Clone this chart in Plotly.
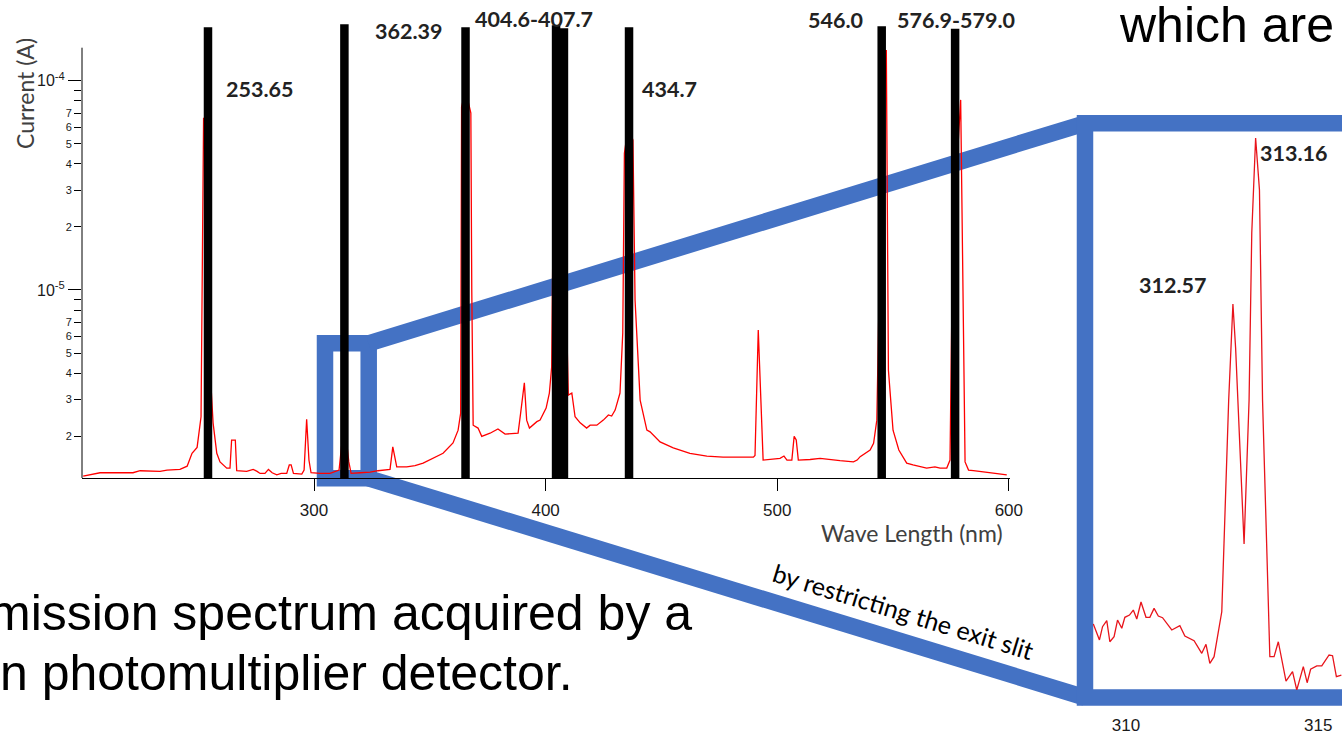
import plotly.graph_objects as go

# design grid = the 1342 x 736 picture; the figure itself is laid out a little wider
GW, GH = 1342, 736
FIG_W, FIG_H = 1355, 736

# ---------------- data ----------------
wavelength_nm = [200.3, 207.6, 221.8, 224.9, 233.5, 236.5, 242.1, 245.2, 247.3, 249.5,
                 251.2, 252.3, 253.6, 255.2, 256.4, 258.0, 259.4, 262.3, 263.7, 264.4,
                 266.0, 266.6, 270.9, 273.7, 275.4, 276.7, 278.8, 280.3, 281.9, 283.9,
                 285.8, 288.2, 289.3, 290.1, 291.1, 294.7, 295.7, 296.8, 297.8, 298.7,
                 302.6, 306.9, 310.8, 312.1, 312.6, 313.2, 315.0, 316.0, 319.9, 324.2,
                 327.6, 332.8, 334.0, 335.7, 340.0, 343.6, 347.1, 351.4, 355.7, 360.0,
                 362.2, 363.3, 363.7, 365.4, 367.7, 368.1, 368.7, 370.8, 372.4, 376.0,
                 379.4, 382.5, 385.5, 388.1, 389.2, 390.8, 391.8, 393.0, 396.2, 397.6,
                 400.2, 401.6, 402.6, 403.2, 404.5, 406.2, 407.9, 409.2, 409.8, 411.3,
                 412.7, 414.9, 417.7, 419.2, 422.1, 424.9, 427.1, 428.5, 430.0, 432.1,
                 433.3, 434.0, 435.6, 437.7, 438.6, 440.8, 443.7, 445.1, 449.4, 455.1,
                 462.3, 469.6, 476.6, 483.9, 489.7, 490.4, 491.8, 493.9, 501.2, 502.9,
                 504.2, 506.3, 507.3, 508.2, 509.1, 514.2, 518.5, 527.1, 532.9, 534.5,
                 535.8, 540.1, 541.6, 543.0, 543.5, 545.0, 547.1, 548.0, 550.0, 552.5,
                 555.9, 558.6, 564.5, 568.1, 570.3, 573.2, 574.6, 575.5, 577.6, 579.2,
                 581.1, 582.6, 584.7, 590.5, 594.1, 599.1]
current_A = [1.29e-6, 1.34e-6, 1.34e-6, 1.37e-6, 1.36e-6, 1.38e-6, 1.39e-6, 1.44e-6, 1.66e-6, 1.77e-6,
             2.48e-6, 6.64e-5, 3.0e-5, 4.0e-6, 2.32e-6, 1.66e-6, 1.51e-6, 1.41e-6, 1.41e-6, 1.92e-6,
             1.92e-6, 1.37e-6, 1.36e-6, 1.39e-6, 1.36e-6, 1.33e-6, 1.33e-6, 1.39e-6, 1.34e-6, 1.31e-6,
             1.33e-6, 1.33e-6, 1.46e-6, 1.46e-6, 1.33e-6, 1.32e-6, 1.38e-6, 2.41e-6, 1.54e-6, 1.34e-6,
             1.33e-6, 1.33e-6, 1.38e-6, 1.9e-6, 1.7e-6, 2.3e-6, 1.51e-6, 1.33e-6, 1.34e-6, 1.35e-6,
             1.37e-6, 1.39e-6, 1.78e-6, 1.43e-6, 1.43e-6, 1.45e-6, 1.49e-6, 1.57e-6, 1.66e-6, 1.86e-6,
             2.14e-6, 2.58e-6, 7.5e-5, 9.0e-5, 7.0e-5, 1.0e-5, 2.26e-6, 2.19e-6, 2.00e-6, 2.07e-6,
             2.17e-6, 2.05e-6, 2.06e-6, 2.07e-6, 2.58e-6, 3.60e-6, 2.39e-6, 2.19e-6, 2.35e-6, 2.39e-6,
             2.73e-6, 3.22e-6, 4.29e-6, 2.0e-5, 6.0e-5, 1.5e-5, 2.5e-5, 5.0e-6, 3.15e-6, 3.22e-6,
             2.48e-6, 2.32e-6, 2.19e-6, 2.26e-6, 2.26e-6, 2.39e-6, 2.53e-6, 2.50e-6, 2.67e-6, 3.22e-6,
             6.24e-6, 4.5e-5, 6.0e-5, 5.2e-5, 8.96e-6, 2.98e-6, 2.14e-6, 2.10e-6, 1.88e-6, 1.76e-6,
             1.66e-6, 1.61e-6, 1.59e-6, 1.59e-6, 1.59e-6, 1.62e-6, 6.44e-6, 1.54e-6, 1.57e-6, 1.61e-6,
             1.54e-6, 1.54e-6, 2.00e-6, 1.92e-6, 1.54e-6, 1.55e-6, 1.57e-6, 1.53e-6, 1.51e-6, 1.54e-6,
             1.60e-6, 1.72e-6, 1.85e-6, 2.39e-6, 5.0e-6, 4.0e-5, 1.40e-4, 4.15e-6, 2.14e-6, 1.72e-6,
             1.49e-6, 1.46e-6, 1.41e-6, 1.43e-6, 1.41e-6, 1.41e-6, 1.54e-6, 1.0e-5, 4.0e-5, 8.09e-5,
             1.51e-6, 1.38e-6, 1.37e-6, 1.34e-6, 1.33e-6, 1.31e-6]

# black marker bars for the Hg lines
line_centers_nm = [254.2, 313.1, 365.4, 404.5, 407.9, 436.0, 545.1, 576.8]
line_tops_A = [1.80e-4, 1.86e-4, 1.80e-4, 1.84e-4, 1.78e-4, 1.80e-4, 1.82e-4, 1.77e-4]
line_bottom_A = 1.2e-6

# zoomed inset (narrow exit slit), relative units
inset_wavelength_nm = [309.15, 309.31, 309.39, 309.50, 309.58, 309.69, 309.78, 309.89, 309.97, 310.09,
                       310.19, 310.28, 310.39, 310.52, 310.62, 310.73, 310.84, 310.95, 311.19, 311.40,
                       311.53, 311.77, 311.97, 312.08, 312.18, 312.29, 312.49, 312.67, 312.78, 312.85,
                       313.07, 313.20, 313.27, 313.37, 313.47, 313.55, 313.74, 313.85, 313.96, 314.16,
                       314.33, 314.44, 314.61, 314.71, 314.80, 314.96, 315.09, 315.28, 315.37, 315.47,
                       315.60]
inset_signal = [6.62, 5.02, 6.35, 6.95, 4.84, 5.35, 7.02, 6.19, 7.29, 7.52,
                8.02, 7.12, 8.83, 7.29, 7.29, 8.19, 7.42, 7.25, 6.02, 6.45,
                5.42, 4.94, 3.68, 4.58, 2.68, 3.34, 7.85, 29.09, 38.72, 34.30,
                14.64, 29.09, 45.84, 55.37, 50.15, 29.09, 3.34, 3.34, 4.84, 0.90,
                1.84, 0.0, 2.34, 0.73, 2.08, 2.41, 2.41, 3.51, 3.44, 1.33,
                1.50]

main_xticks = [300, 400, 500, 600]
inset_xticks = [310, 315]
decade_ticks = [1e-5, 1e-4]
decade_text = ["10<sup>-5</sup>", "10<sup>-4</sup>"]
sub_ticks = [2e-6, 3e-6, 4e-6, 5e-6, 6e-6, 7e-6, 8e-6, 9e-6,
             2e-5, 3e-5, 4e-5, 5e-5, 6e-5, 7e-5, 8e-5, 9e-5]
sub_text = ["2", "3", "4", "5", "6", "7", "", "",
            "2", "3", "4", "5", "6", "7", "", ""]

peak_labels = ["253.65", "362.39", "404.6-407.7", "434.7", "546.0", "576.9-579.0"]
inset_labels = ["312.57", "313.16"]

# ---------------- helpers (picture pixel -> paper fraction) ----------------
def px(x):
    return x / GW

def py(y):
    return 1 - y / GH

BLUE = "#4472C4"
CAL = "Lato, 'Open Sans', sans-serif"
ARIAL = "'Liberation Sans', Arial, sans-serif"

fig = go.Figure()

fig.add_trace(go.Scatter(x=wavelength_nm, y=current_A, mode="lines",
                         line=dict(color="#FF0000", width=1.3),
                         xaxis="x", yaxis="y", showlegend=False, hoverinfo="skip"))

bx, by = [], []
for c, t in zip(line_centers_nm, line_tops_A):
    bx += [c, c, None]
    by += [line_bottom_A, t, None]
fig.add_trace(go.Scatter(x=bx, y=by, mode="lines",
                         line=dict(color="#000000", width=8.5),
                         xaxis="x", yaxis="y", showlegend=False, hoverinfo="skip"))

# dummy trace so the overlaid minor-label axis is rendered
fig.add_trace(go.Scatter(x=[None], y=[None], xaxis="x", yaxis="y3",
                         showlegend=False, hoverinfo="skip"))

fig.add_trace(go.Scatter(x=inset_wavelength_nm, y=inset_signal, mode="lines",
                         line=dict(color="#E8141B", width=1.3),
                         xaxis="x2", yaxis="y2", showlegend=False, hoverinfo="skip"))

YR = [-5.898, -3.720]

fig.update_layout(
    width=FIG_W, height=FIG_H, autosize=False,
    margin=dict(l=0, r=0, t=0, b=0, pad=0),
    paper_bgcolor="white",
    plot_bgcolor="rgba(0,0,0,0)",
    xaxis=dict(domain=[px(82), px(1010)], range=[199.8, 600.5], anchor="y",
               showline=True, linecolor="black", linewidth=1, mirror=False,
               showgrid=False, zeroline=False,
               ticks="outside", ticklen=12, tickwidth=1, tickcolor="black",
               tickvals=main_xticks, ticktext=[str(v) for v in main_xticks],
               tickfont=dict(family=ARIAL, size=17, color="#1a1a1a"),
               ticklabelstandoff=5),
    yaxis=dict(domain=[py(478), py(22)], type="log", range=YR, anchor="x",
               showline=False, showgrid=False, zeroline=False,
               ticks="outside", ticklen=13, tickwidth=1, tickcolor="black",
               tickvals=decade_ticks, ticktext=decade_text,
               tickfont=dict(family=ARIAL, size=16, color="#1a1a1a")),
    yaxis3=dict(overlaying="y", anchor="x", side="left", type="log", range=YR,
                showline=False, showgrid=False, zeroline=False,
                ticks="outside", ticklen=7, tickwidth=1, tickcolor="black",
                tickvals=sub_ticks, ticktext=sub_text,
                tickfont=dict(family=ARIAL, size=11, color="#1a1a1a")),
    xaxis2=dict(domain=[px(1093), 1.0], range=[309.142, 315.616], anchor="y2",
                showline=False, showgrid=False, zeroline=False, ticks="",
                tickvals=inset_xticks, ticktext=[str(v) for v in inset_xticks],
                tickfont=dict(family=ARIAL, size=17, color="#1a1a1a"),
                ticklabelstandoff=23),
    yaxis2=dict(domain=[py(690), py(131.7)], range=[0, 56], anchor="x2",
                visible=False),
)

shapes = []
# y axis line (only up to the top of the original axis)
shapes.append(dict(type="line", xref="paper", yref="paper",
                   x0=px(82), x1=px(82), y0=py(478), y1=py(47.7),
                   line=dict(color="black", width=1), layer="above"))
# blue zoom box, connectors and inset frame
blue = dict(color=BLUE, width=16.5)
shapes.append(dict(type="rect", xref="paper", yref="paper",
                   x0=px(325), x1=px(368.7), y0=py(478.3), y1=py(343.3),
                   line=blue, layer="below"))
shapes.append(dict(type="line", xref="paper", yref="paper",
                   x0=px(368.7), y0=py(343.3), x1=px(1085), y1=py(123.3),
                   line=blue, layer="below"))
shapes.append(dict(type="line", xref="paper", yref="paper",
                   x0=px(368.7), y0=py(478.3), x1=px(1085), y1=py(697.5),
                   line=blue, layer="below"))
# inset frame: its right side runs off the picture
frame_path = (f"M {px(1360):.5f},{py(123.3):.5f} L {px(1085):.5f},{py(123.3):.5f} "
              f"L {px(1085):.5f},{py(697.5):.5f} L {px(1360):.5f},{py(697.5):.5f}")
shapes.append(dict(type="path", xref="paper", yref="paper", path=frame_path,
                   line=blue, layer="below"))
fig.update_layout(shapes=shapes)

ann = []
label_pos = [(259.5, 89.5), (409, 31), (534, 19), (669, 89.5), (835, 20), (956, 20)]
for txt, (x, y) in zip(peak_labels, label_pos):
    ann.append(dict(text=f"<b>{txt}</b>", x=px(x), y=py(y), xref="paper", yref="paper",
                    xanchor="center", yanchor="middle", showarrow=False,
                    font=dict(family=CAL, size=21.5, color="#222222")))
inset_pos = [(1172.5, 285), (1293.3, 153)]
for txt, (x, y) in zip(inset_labels, inset_pos):
    ann.append(dict(text=f"<b>{txt}</b>", x=px(x), y=py(y), xref="paper", yref="paper",
                    xanchor="center", yanchor="middle", showarrow=False,
                    font=dict(family=CAL, size=21.5, color="#222222")))
ann.append(dict(text="Current (A)", x=px(25), y=py(94), xref="paper", yref="paper",
                xanchor="center", yanchor="middle", showarrow=False, textangle=-90,
                font=dict(family=CAL, size=23, color="#404040")))
ann.append(dict(text="Wave Length (nm)", x=px(912), y=py(533), xref="paper", yref="paper",
                xanchor="center", yanchor="middle", showarrow=False,
                font=dict(family=CAL, size=23, color="#404040")))
ann.append(dict(text="by restricting the exit slit", x=px(903), y=py(611), xref="paper",
                yref="paper", xanchor="center", yanchor="middle", showarrow=False,
                textangle=17, font=dict(family=CAL, size=25, color="#000000")))
ann.append(dict(text="which are", x=px(1117), y=py(25), xref="paper", yref="paper",
                xanchor="left", yanchor="middle", showarrow=False,
                font=dict(family=ARIAL, size=50, color="#000000")))
ann.append(dict(text="mission spectrum acquired by a", x=px(-13), y=py(613), xref="paper",
                yref="paper", xanchor="left", yanchor="middle", showarrow=False,
                font=dict(family=ARIAL, size=50, color="#000000")))
ann.append(dict(text="n photomultiplier detector.", x=px(-2), y=py(673), xref="paper",
                yref="paper", xanchor="left", yanchor="middle", showarrow=False,
                font=dict(family=ARIAL, size=50, color="#000000")))
fig.update_layout(annotations=ann)

post = (
    "document.documentElement.style.margin='0';"
    "document.body.style.margin='0';"
)
fig.write_html("out.html", post_script=post)
